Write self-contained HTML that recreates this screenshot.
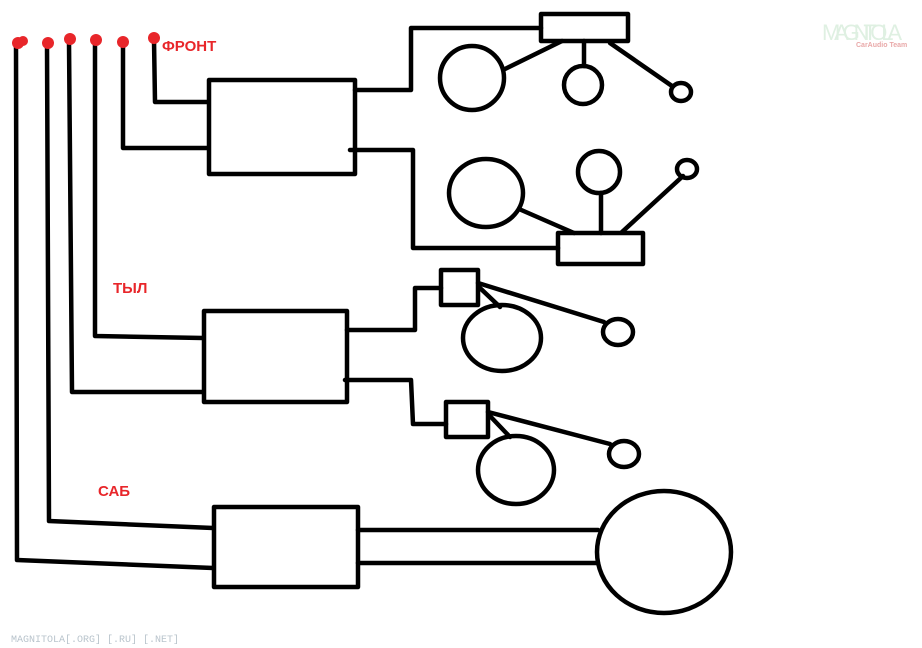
<!DOCTYPE html>
<html><head><meta charset="utf-8"><style>
html,body{margin:0;padding:0;background:#fff;width:922px;height:648px;overflow:hidden}
svg{display:block}
</style></head><body>
<svg width="922" height="648" viewBox="0 0 922 648" xmlns="http://www.w3.org/2000/svg">
<g fill="none" stroke="#000" stroke-width="4.5" stroke-linejoin="round" stroke-linecap="round">
<!-- wires -->
<polyline points="16,44 17,560 213,568"/>
<polyline points="47,44 49,521 213,528"/>
<polyline points="69,42 72,392 203,392"/>
<polyline points="95,42 95,336 203,338"/>
<polyline points="123,44 123,148 208,148"/>
<polyline points="154,40 155,102 208,102"/>
<!-- amps -->
<rect x="209" y="80" width="146" height="94"/>
<rect x="204" y="311" width="143" height="91"/>
<rect x="214" y="507" width="144" height="80"/>
<!-- front top -->
<polyline points="355,90 411,90 411,28 541,28"/>
<rect x="541" y="14" width="87" height="27"/>
<circle cx="472" cy="78" r="32"/>
<circle cx="583" cy="85" r="19"/>
<ellipse cx="681" cy="92" rx="10" ry="9"/>
<line x1="505" y1="69" x2="562" y2="41"/>
<line x1="584" y1="41" x2="584" y2="66"/>
<line x1="610" y1="43" x2="672" y2="86"/>
<!-- front bottom -->
<polyline points="350,150 413,150 413,248 558,248"/>
<rect x="558" y="233" width="85" height="31"/>
<ellipse cx="486" cy="193" rx="37" ry="34"/>
<circle cx="599" cy="172" r="21"/>
<ellipse cx="687" cy="169" rx="10" ry="9"/>
<line x1="519" y1="209" x2="574" y2="233"/>
<line x1="601" y1="193" x2="601" y2="233"/>
<line x1="622" y1="232" x2="683" y2="176"/>
<!-- rear top -->
<polyline points="347,330 415,330 415,288 441,288"/>
<rect x="441" y="270" width="37" height="35"/>
<ellipse cx="502" cy="338" rx="39" ry="33"/>
<ellipse cx="618" cy="332" rx="15" ry="13"/>
<line x1="478" y1="283" x2="604" y2="322"/>
<line x1="480" y1="288" x2="500" y2="307"/>
<!-- rear bottom -->
<polyline points="345,380 411,380 413,424 446,424"/>
<rect x="446" y="402" width="42" height="35"/>
<ellipse cx="516" cy="470" rx="38" ry="34"/>
<ellipse cx="624" cy="454" rx="15" ry="13"/>
<line x1="488" y1="412" x2="610" y2="444"/>
<line x1="490" y1="416" x2="510" y2="437"/>
<!-- sub -->
<line x1="358" y1="530" x2="598" y2="530"/>
<line x1="358" y1="563" x2="598" y2="563"/>
<ellipse cx="664" cy="552" rx="67" ry="61"/>
</g>
<g fill="#e8262a">
<circle cx="18" cy="43" r="6"/><circle cx="23" cy="41" r="5"/>
<circle cx="48" cy="43" r="6"/>
<circle cx="70" cy="39" r="6"/>
<circle cx="96" cy="40" r="6"/>
<circle cx="123" cy="42" r="6"/>
<circle cx="154" cy="38" r="6"/>
</g>
<g font-family="Liberation Sans, sans-serif" font-weight="bold" font-size="15" fill="#e8262a">
<text x="162" y="51">ФРОНТ</text>
<text x="113" y="293">ТЫЛ</text>
<text x="98" y="496">САБ</text>
</g>
<text x="822" y="40" font-family="Liberation Sans, sans-serif" font-size="22" fill="#dff0e2" textLength="80">MAGNITOLA</text>
<text x="856" y="47" font-family="Liberation Sans, sans-serif" font-weight="bold" font-size="7" fill="#e9a9a9">CarAudio Team</text>
<text x="11" y="642" font-family="Liberation Mono, monospace" font-size="10" fill="#b9c4cc">MAGNITOLA[.ORG] [.RU] [.NET]</text>
</svg>
</body></html>
